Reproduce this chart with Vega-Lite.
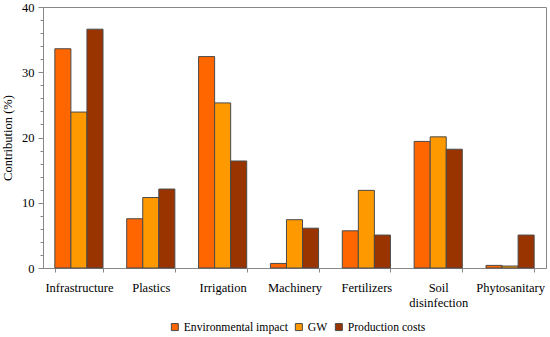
{
  "$schema": "https://vega.github.io/schema/vega-lite/v6.json",
  "width": 503,
  "height": 261,
  "autosize": {"type": "none"},
  "padding": {"left": 43, "top": 7, "right": 4, "bottom": 69},
  "background": "white",
  "config": {
    "font": "Liberation Serif",
    "view": {"stroke": "#888888", "strokeWidth": 1}
  },
  "data": {
    "values": [
      {"cat": "Infrastructure", "series": "Environmental impact", "v": 33.6},
      {"cat": "Infrastructure", "series": "GW", "v": 23.9},
      {"cat": "Infrastructure", "series": "Production costs", "v": 36.6},
      {"cat": "Plastics", "series": "Environmental impact", "v": 7.55},
      {"cat": "Plastics", "series": "GW", "v": 10.8},
      {"cat": "Plastics", "series": "Production costs", "v": 12.1},
      {"cat": "Irrigation", "series": "Environmental impact", "v": 32.4},
      {"cat": "Irrigation", "series": "GW", "v": 25.3},
      {"cat": "Irrigation", "series": "Production costs", "v": 16.4},
      {"cat": "Machinery", "series": "Environmental impact", "v": 0.7},
      {"cat": "Machinery", "series": "GW", "v": 7.4},
      {"cat": "Machinery", "series": "Production costs", "v": 6.1},
      {"cat": "Fertilizers", "series": "Environmental impact", "v": 5.7},
      {"cat": "Fertilizers", "series": "GW", "v": 11.9},
      {"cat": "Fertilizers", "series": "Production costs", "v": 5.05},
      {"cat": "Soil disinfection", "series": "Environmental impact", "v": 19.4},
      {"cat": "Soil disinfection", "series": "GW", "v": 20.1},
      {"cat": "Soil disinfection", "series": "Production costs", "v": 18.2},
      {"cat": "Phytosanitary", "series": "Environmental impact", "v": 0.4},
      {"cat": "Phytosanitary", "series": "GW", "v": 0.3},
      {"cat": "Phytosanitary", "series": "Production costs", "v": 5.05}
    ]
  },
  "layer": [
    {
      "mark": {"type": "bar", "stroke": "#4a4a4a", "strokeWidth": 1},
      "encoding": {
        "x": {
          "field": "cat",
          "type": "nominal",
          "sort": null,
          "scale": {"paddingInner": 0.33, "paddingOuter": 0.165},
          "axis": {
            "title": null,
            "labelAngle": 0,
            "labelFont": "Liberation Serif",
            "labelFontSize": 12.5,
            "labelColor": "black",
            "labelPadding": 9,
            "tickBand": "extent",
            "tickSize": 4,
            "tickColor": "#888888",
            "domainColor": "#888888",
            "labelExpr": "datum.label == 'Soil disinfection' ? ['Soil', 'disinfection'] : datum.label",
            "labelLineHeight": 15
          }
        },
        "xOffset": {
          "field": "series",
          "type": "nominal",
          "sort": ["Environmental impact", "GW", "Production costs"]
        },
        "y": {
          "field": "v",
          "type": "quantitative",
          "scale": {"domain": [0, 40], "nice": false},
          "axis": {
            "title": "Contribution (%)",
            "titleFont": "Liberation Serif",
            "titleFontSize": 12.5,
            "titleFontWeight": "normal",
            "titleColor": "black",
            "titlePadding": 7,
            "values": [0, 10, 20, 30, 40],
            "labelFont": "Liberation Serif",
            "labelFontSize": 12.5,
            "labelColor": "black",
            "labelPadding": 4,
            "grid": false,
            "tickSize": 5,
            "tickColor": "#888888",
            "domainColor": "#888888"
          }
        },
        "color": {
          "field": "series",
          "type": "nominal",
          "sort": ["Environmental impact", "GW", "Production costs"],
          "scale": {
            "domain": ["Environmental impact", "GW", "Production costs"],
            "range": ["#FF6600", "#FF9900", "#993300"]
          },
          "legend": {
            "title": null,
            "orient": "none",
            "legendX": 126,
            "legendY": 314,
            "direction": "horizontal",
            "symbolType": "square",
            "symbolSize": 49,
            "symbolStrokeColor": "#4a4a4a",
            "symbolStrokeWidth": 1,
            "labelFont": "Liberation Serif",
            "labelFontSize": 11.7,
            "labelColor": "black",
            "labelOffset": 3,
            "columnPadding": 5
          }
        }
      }
    },
    {
      "mark": {"type": "bar", "opacity": 0},
      "encoding": {
        "x": {"field": "cat", "type": "nominal", "sort": null},
        "xOffset": {"field": "series", "type": "nominal", "sort": ["Environmental impact", "GW", "Production costs"]},
        "y": {
          "field": "v",
          "type": "quantitative",
          "axis": {
            "title": null,
            "values": [2, 4, 6, 8, 12, 14, 16, 18, 22, 24, 26, 28, 32, 34, 36, 38],
            "labels": false,
            "domain": false,
            "grid": false,
            "tickSize": 3,
            "tickColor": "#888888",
            "orient": "left"
          }
        }
      }
    }
  ],
  "resolve": {"axis": {"y": "independent"}}
}
